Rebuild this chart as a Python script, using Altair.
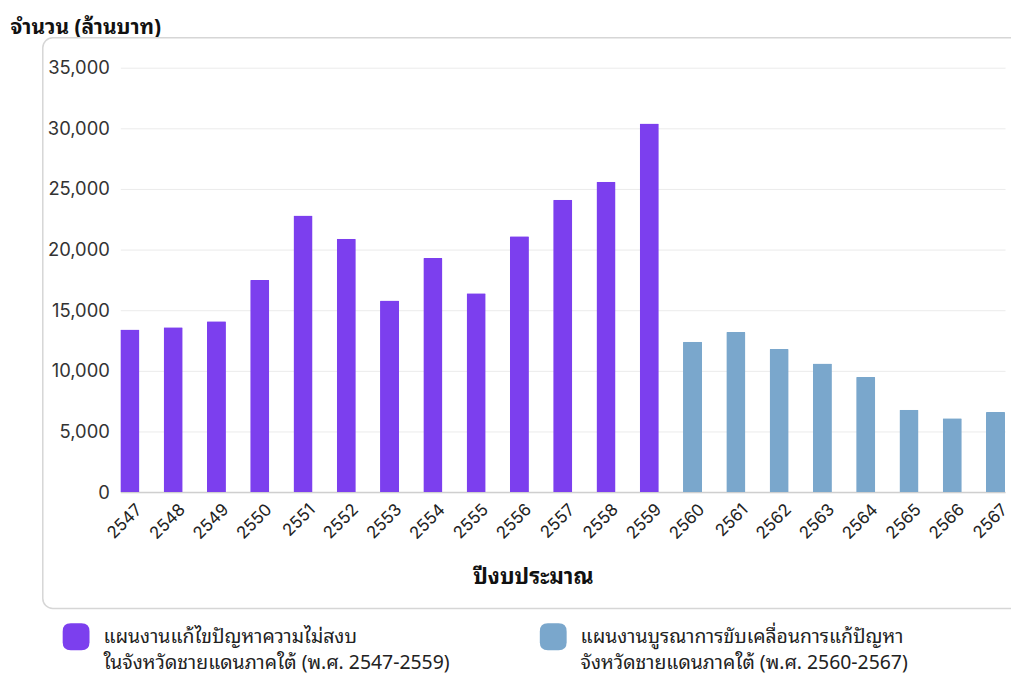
import altair as alt
import pandas as pd

years = [str(y) for y in range(2547, 2568)]
values = [13400, 13600, 14100, 17500, 22800, 20900, 15800, 19300, 16400, 21100,
          24100, 25600, 30400,
          12400, 13200, 11800, 10600, 9500, 6800, 6100, 6600]
series_names = [
    "แผนงานแก้ไขปัญหาความไม่สงบ|ในจังหวัดชายแดนภาคใต้ (พ.ศ. 2547-2559)",
    "แผนงานบูรณาการขับเคลื่อนการแก้ปัญหา|จังหวัดชายแดนภาคใต้ (พ.ศ. 2560-2567)",
]
series = [series_names[0]] * 13 + [series_names[1]] * 8
colors = ["#7C3FEE", "#7AA7CC"]

df = pd.DataFrame({"year": years, "value": values, "series": series})

FONT = "Inter, 'Noto Sans Thai', 'Noto Sans', sans-serif"
TFONT = "'Noto Sans Thai Looped', 'Noto Sans Thai', Inter, sans-serif"

rounded = ("M -0.4,-1 L 0.4,-1 Q 1,-1 1,-0.4 L 1,0.4 Q 1,1 0.4,1 "
           "L -0.4,1 Q -1,1 -1,0.4 L -1,-0.4 Q -1,-1 -0.4,-1 Z")

frame = alt.Chart(pd.DataFrame({"a": [0]})).mark_rect(
    filled=False, stroke="#d6d6d6", strokeWidth=1.5, cornerRadius=10
).encode(
    x=alt.value(-78), x2=alt.value(940), y=alt.value(-30), y2=alt.value(544)
)

bars = alt.Chart(df).mark_bar(cornerRadiusTopLeft=1, cornerRadiusTopRight=1).encode(
    x=alt.X("year:N", sort=years,
            scale=alt.Scale(paddingInner=0.56, paddingOuter=0),
            axis=alt.Axis(title="ปีงบประมาณ", labelAngle=-45, labelFont=FONT,
                          labelFontSize=17, labelColor="#222", labelPadding=9,
                          labelOffset=4,
                          ticks=False, domainColor="#cfcfcf", domainWidth=1.5,
                          titleFont=TFONT, titleFontSize=22, titleFontWeight="bold",
                          titleColor="#111", titleX=415, titleY=85,
                          titleBaseline="middle")),
    y=alt.Y("value:Q", scale=alt.Scale(domain=[0, 35000]),
            axis=alt.Axis(title="จำนวน (ล้านบาท)", values=list(range(0, 35001, 5000)),
                          format=",.0f", labelFont=FONT, labelFontSize=18.5,
                          labelColor="#333", labelPadding=11, ticks=False,
                          domain=False, gridColor="#ebebeb", gridWidth=1,
                          titleAngle=0, titleAlign="left", titleX=-111,
                          titleY=-40, titleBaseline="middle", titleFont=TFONT,
                          titleFontSize=21, titleFontWeight="bold",
                          titleColor="#111")),
    color=alt.Color("series:N", sort=series_names,
                    scale=alt.Scale(domain=series_names, range=colors),
                    legend=alt.Legend(title=None, orient="none", direction="horizontal",
                                      legendX=-58, legendY=559,
                                      symbolType=rounded, symbolSize=729,
                                      symbolStrokeWidth=0, symbolOpacity=1,
                                      labelExpr="split(datum.label, '|')",
                                      labelFont=TFONT, labelFontSize=19.5,
                                      labelColor="#222", labelOffset=14,
                                      labelLimit=500, columnPadding=90,
                                      labelBaseline="middle")),
)

chart = alt.layer(frame, bars).properties(
    width=890, height=427,
    autosize=alt.AutoSizeParams(type="none"),
    padding={"left": 113, "top": 58, "right": 6, "bottom": 190},
).configure(
    view=alt.ViewConfig(stroke=None),
    style={"guide-label": {"lineHeight": 26}},
)

chart.save("out.html", embed_options={"renderer": "svg", "actions": False})
